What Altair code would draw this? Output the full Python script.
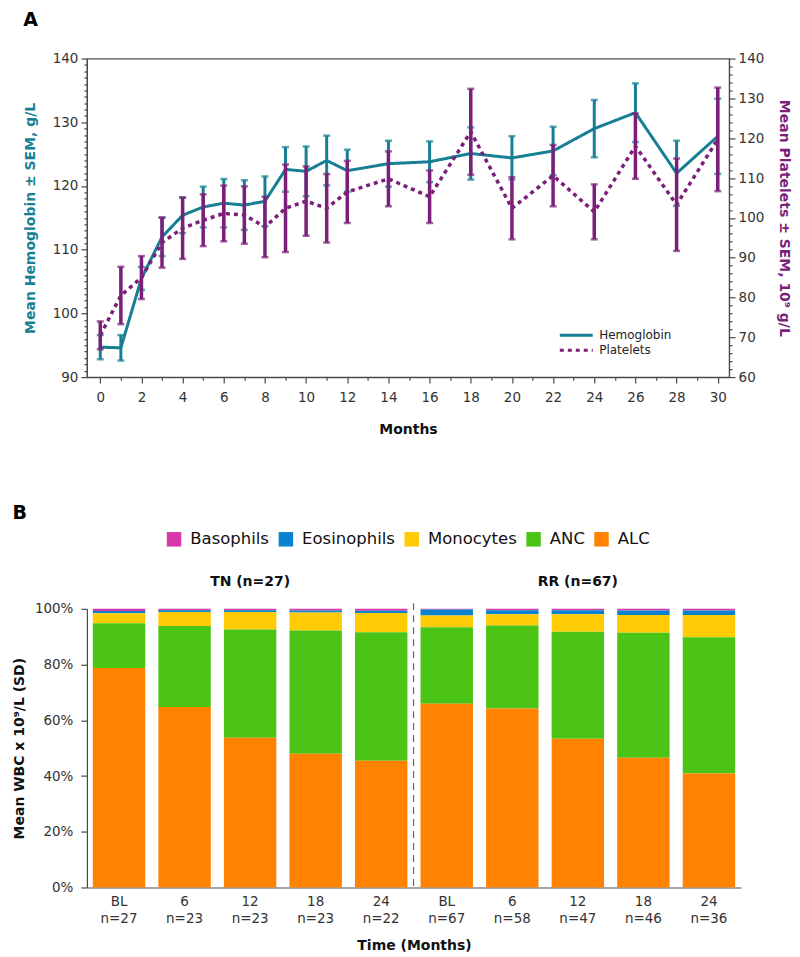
import altair as alt
import pandas as pd

# ---------------- Panel A data ----------------
months = [0, 1, 2, 3, 4, 5, 6, 7, 8, 9, 10, 11, 12, 14, 16, 18, 20, 22, 24, 26, 28, 30]
hb_mean = [94.7, 94.6, 105.5, 112.0, 115.4, 116.7, 117.3, 117.0, 117.6, 122.6, 122.3, 124.0,
           122.4, 123.5, 123.8, 125.1, 124.4, 125.5, 129.0, 131.5, 122.0, 127.8]
hb_sem = [1.9, 2.0, 1.8, 3.0, 2.8, 3.2, 3.8, 3.9, 3.9, 3.5, 3.9, 3.9,
          3.3, 3.6, 3.2, 4.1, 3.4, 3.8, 4.5, 4.6, 5.1, 5.9]
plt_mean = [70.5, 80.5, 85.0, 93.8, 97.4, 99.4, 101.1, 100.7, 97.7, 102.4, 104.2, 102.4,
            106.5, 109.8, 105.3, 121.6, 102.4, 110.6, 101.5, 118.0, 103.3, 119.7]
plt_sem = [3.5, 7.2, 5.4, 6.3, 7.7, 6.5, 7.0, 7.2, 7.6, 11.0, 8.7, 8.6,
           7.8, 6.9, 6.6, 10.8, 7.8, 7.7, 6.9, 8.2, 11.6, 13.0]
series_names = ["Hemoglobin", "Platelets"]

# ---------------- Panel B data ----------------
groups = ["TN", "TN", "TN", "TN", "TN", "RR", "RR", "RR", "RR", "RR"]
times = ["BL", "6", "12", "18", "24", "BL", "6", "12", "18", "24"]
ns = [27, 23, 23, 23, 22, 67, 58, 47, 46, 36]
group_titles = {"TN": "TN (n=27)", "RR": "RR (n=67)"}
cell_types = ["Basophils", "Eosinophils", "Monocytes", "ANC", "ALC"]
alc = [78.8, 64.8, 53.7, 48.0, 45.5, 65.9, 64.2, 53.4, 46.6, 40.9]
anc = [16.0, 29.0, 38.9, 44.2, 46.1, 27.5, 29.8, 38.4, 44.8, 48.9]
mono = [3.6, 5.1, 6.3, 6.5, 6.9, 4.2, 4.1, 6.3, 6.4, 8.0]
eos = [0.8, 0.6, 0.6, 0.7, 0.8, 2.2, 1.4, 1.4, 1.6, 1.6]
baso = [0.8, 0.5, 0.5, 0.6, 0.7, 0.2, 0.5, 0.5, 0.6, 0.6]

TEAL = "#167f94"
PURPLE = "#7b1f79"
AXIS = "#4a4a4a"
FONT = "DejaVu Sans"
B_COLORS = ["#d836a9", "#0a83cf", "#ffcb05", "#4cc416", "#ff8200"]

# ---------------- Panel A ----------------
df_a = pd.DataFrame({"month": months, "hb": hb_mean, "hb_sem": hb_sem,
                     "plt": plt_mean, "plt_sem": plt_sem})
df_a["hb_lo"] = df_a["hb"] - df_a["hb_sem"]
df_a["hb_hi"] = df_a["hb"] + df_a["hb_sem"]
df_a["plt_lo"] = df_a["plt"] - df_a["plt_sem"]
df_a["plt_hi"] = df_a["plt"] + df_a["plt_sem"]

x_a = alt.X("month:Q",
            scale=alt.Scale(domain=[-0.65, 30.55], nice=False, zero=False),
            axis=alt.Axis(title="Months", values=list(range(0, 31)),
                          labelExpr="datum.value % 2 == 0 ? datum.label : ''",
                          tickSize={"condition": {"test": "datum.value % 2 == 0", "value": 6}, "value": 3},
                          grid=False, labelPadding=7, titlePadding=19))

hb_scale = alt.Scale(domain=[90, 140], nice=False, zero=False)
hb_axis = alt.Axis(title="Mean Hemoglobin ± SEM, g/L", titleColor=TEAL, orient="left",
                   values=list(range(90, 141)),
                   labelExpr="datum.value % 10 == 0 ? datum.label : ''",
                   tickSize={"condition": {"test": "datum.value % 10 == 0", "value": 6}, "value": 3},
                   grid=False, labelPadding=3, titlePadding=15)
plt_scale = alt.Scale(domain=[60, 140], nice=False, zero=False)
plt_axis = alt.Axis(title="Mean Platelets ± SEM, 10⁹ g/L", titleColor=PURPLE, orient="right",
                    values=list(range(60, 141, 2)),
                    labelExpr="datum.value % 10 == 0 ? datum.label : ''",
                    tickSize={"condition": {"test": "datum.value % 10 == 0", "value": 6}, "value": 3},
                    grid=False, labelPadding=3, titlePadding=13)

leg_a = alt.Legend(orient="none", legendX=481, legendY=268, title=None,
                   symbolType="M-2.2,0H2.2", symbolSize=225, symbolStrokeWidth=3,
                   labelFontSize=12, labelColor="#222", labelOffset=14, rowPadding=0)
series_color = alt.Color("series:N", scale=alt.Scale(domain=series_names, range=[TEAL, PURPLE]),
                         legend=leg_a)
series_dash = alt.StrokeDash("series:N", scale=alt.Scale(domain=series_names, range=[[1, 0], [4, 4]]),
                             legend=leg_a)

base_a = alt.Chart(df_a)

hb_line = base_a.mark_line(strokeWidth=3).transform_calculate(series="'Hemoglobin'").encode(
    x=x_a, y=alt.Y("hb:Q", scale=hb_scale, axis=hb_axis), color=series_color, strokeDash=series_dash)
hb_bar = base_a.mark_rule(color=TEAL, strokeWidth=3).encode(
    x=x_a, y=alt.Y("hb_lo:Q", scale=hb_scale, axis=hb_axis), y2="hb_hi:Q")
hb_cap_lo = base_a.mark_tick(color=TEAL, orient="horizontal", size=7, thickness=2.5).encode(
    x=x_a, y=alt.Y("hb_lo:Q", scale=hb_scale, axis=hb_axis))
hb_cap_hi = base_a.mark_tick(color=TEAL, orient="horizontal", size=7, thickness=2.5).encode(
    x=x_a, y=alt.Y("hb_hi:Q", scale=hb_scale, axis=hb_axis))
hb_layer = alt.layer(hb_line, hb_bar, hb_cap_lo, hb_cap_hi)

plt_line = base_a.mark_line(strokeWidth=3.5).transform_calculate(series="'Platelets'").encode(
    x=x_a, y=alt.Y("plt:Q", scale=plt_scale, axis=plt_axis), color=series_color, strokeDash=series_dash)
plt_bar = base_a.mark_rule(color=PURPLE, strokeWidth=3.5).encode(
    x=x_a, y=alt.Y("plt_lo:Q", scale=plt_scale, axis=plt_axis), y2="plt_hi:Q")
plt_cap_lo = base_a.mark_tick(color=PURPLE, orient="horizontal", size=7, thickness=2.5).encode(
    x=x_a, y=alt.Y("plt_lo:Q", scale=plt_scale, axis=plt_axis))
plt_cap_hi = base_a.mark_tick(color=PURPLE, orient="horizontal", size=7, thickness=2.5).encode(
    x=x_a, y=alt.Y("plt_hi:Q", scale=plt_scale, axis=plt_axis))
plt_layer = alt.layer(plt_bar, plt_cap_lo, plt_cap_hi, plt_line)

chart_a = alt.layer(hb_layer, plt_layer).resolve_scale(y="independent").properties(
    width=643, height=319,
    view=alt.ViewBackground(stroke=AXIS, strokeWidth=1.2),
    title=alt.TitleParams("A", anchor="start", frame="bounds", fontSize=19, fontWeight="bold",
                          offset=22, color="#000"))

# ---------------- Panel B ----------------
keys = [f"{t}|n={n}" for t, n in zip(times, ns)]
rows = []
for i, k in enumerate(keys):
    vals = {"Basophils": baso[i], "Eosinophils": eos[i], "Monocytes": mono[i],
            "ANC": anc[i], "ALC": alc[i]}
    for ct in cell_types:
        rows.append({"key": k, "cell": ct, "value": vals[ct],
                     "stack_order": 4 - cell_types.index(ct)})
df_b = pd.DataFrame(rows)

x_b = alt.X("key:N", sort=keys,
            scale=alt.Scale(paddingInner=0.2, paddingOuter=0.09),
            axis=alt.Axis(title="Time (Months)", labelExpr="split(datum.label, '|')",
                          labelAngle=0, ticks=False, labelPadding=7, titlePadding=14,
                          labelLineHeight=17, labelFontSize=13.5))
y_scale_b = alt.Scale(domain=[0, 100], nice=False)
y_axis_b = alt.Axis(title="Mean WBC x 10⁹/L (SD)", values=list(range(0, 101, 10)),
                    labelExpr="datum.value % 20 == 0 ? datum.value + '%' : ''",
                    tickSize={"condition": {"test": "datum.value % 20 == 0", "value": 6}, "value": 4},
                    grid=False, labelPadding=8, titlePadding=8)

bars = alt.Chart(df_b).mark_bar().encode(
    x=x_b,
    y=alt.Y("value:Q", stack="zero", scale=y_scale_b, axis=y_axis_b),
    color=alt.Color("cell:N", scale=alt.Scale(domain=cell_types, range=B_COLORS),
                    legend=alt.Legend(orient="none", legendX=79, legendY=-78, direction="horizontal",
                                      title=None, symbolType="square", symbolSize=210,
                                      symbolStrokeWidth=0, labelFontSize=16.5, labelColor="#111",
                                      labelOffset=8, columnPadding=8)),
    order=alt.Order("stack_order:Q"),
)

df_g = pd.DataFrame({"key": [keys[2], keys[7]],
                     "label": [group_titles["TN"], group_titles["RR"]]})
grp_text = alt.Chart(df_g).mark_text(fontWeight="bold", fontSize=14, color="#111").encode(
    x=alt.X("key:N", sort=keys), y=alt.value(-27), text="label:N")

df_sep = pd.DataFrame({"key": [keys[5]]})
sep = alt.Chart(df_sep).mark_rule(color="#666", strokeDash=[7, 5], strokeWidth=1.2, xOffset=-7).encode(
    x=alt.X("key:N", sort=keys, bandPosition=0), y=alt.datum(102), y2=alt.datum(0))

chart_b = alt.layer(bars, sep, grp_text).properties(
    width=655, height=279,
    view=alt.ViewBackground(stroke=None),
    title=alt.TitleParams("B", anchor="start", frame="bounds", fontSize=19, fontWeight="bold",
                          offset=8, color="#000"))

chart = alt.vconcat(chart_a, chart_b, spacing=66).resolve_scale(
    color="independent", strokeDash="independent", x="independent", y="independent"
).properties(
    padding={"left": 4, "top": 1, "right": 0, "bottom": 0}
).configure(font=FONT).configure_axis(
    labelFont=FONT, titleFont=FONT, labelFontSize=13.5, titleFontSize=14, titleFontWeight="bold",
    labelColor="#333", titleColor="#111", domainColor=AXIS, tickColor=AXIS, domainWidth=1.2,
    tickWidth=1.2
).configure_legend(labelFont=FONT).configure_title(font=FONT)

chart.save("out.html", embed_options={"renderer": "svg", "actions": False})
